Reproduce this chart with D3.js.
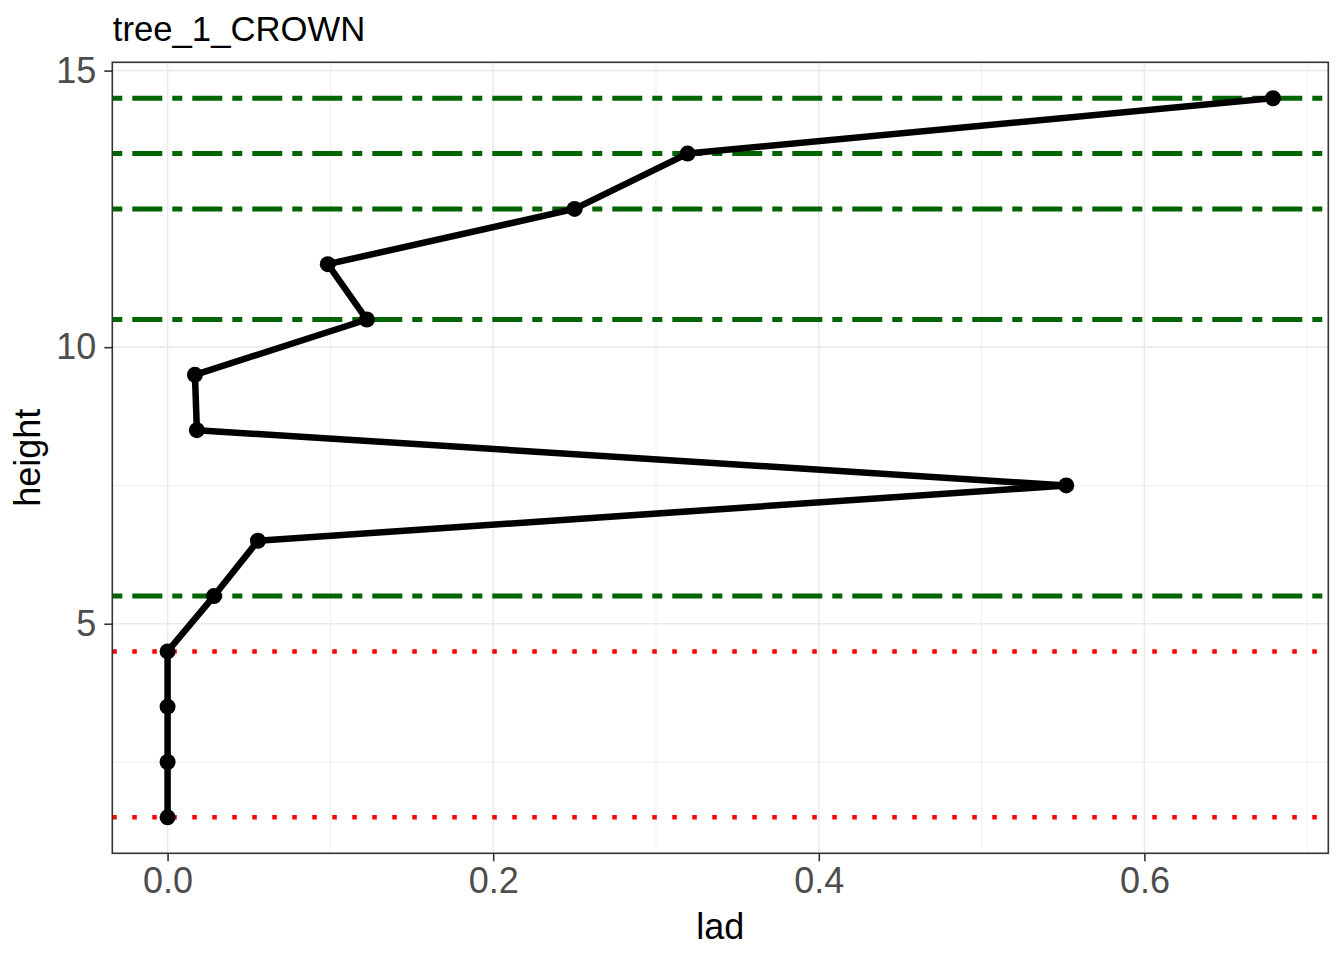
<!DOCTYPE html>
<html>
<head>
<meta charset="utf-8">
<script src="https://cdn.jsdelivr.net/npm/d3@7"></script>
<style>
  body { margin: 0; background: #fff; }
  text { font-family: "Liberation Sans", Arial, sans-serif; }
</style>
</head>
<body>
<script>
var svgWidth = 1344;
var svgHeight = 960;
var margin = { top: 62.3, right: 15.7, bottom: 106.7, left: 112.3 },
        width = svgWidth - margin.left - margin.right,
        height = svgHeight - margin.top - margin.bottom;

// profile data
var heights = [1.5, 2.5, 3.5, 4.5, 5.5, 6.5, 7.5, 8.5, 9.5, 10.5, 11.5, 12.5, 13.5, 14.5];
var lad = [0, 0, 0, 0, 0.0285, 0.0555, 0.552, 0.018, 0.0168, 0.1224, 0.0984, 0.250, 0.3194, 0.679];
var crownLines = [5.5, 10.5, 12.5, 13.5, 14.5];   // green dot-dash
var baseLines = [1.5, 4.5];                       // red dotted
var xTicks = [0, 0.2, 0.4, 0.6];
var xMinor = [0.1, 0.3, 0.5, 0.7];
var yTicks = [5, 10, 15];
var yMinor = [2.5, 7.5, 12.5];
var title = "tree_1_CROWN";

var data = heights.map((h, i) => ({ height: h, lad: lad[i] }));

// ggplot-style 5% expansion
function expand(ext) { var d = (ext[1] - ext[0]) * 0.05; return [ext[0] - d, ext[1] + d]; }

var svg = d3.select("body").append("svg").attr("width", svgWidth).attr("height", svgHeight);
var x = d3.scaleLinear().domain(expand(d3.extent(lad))).range([0, width]);
var y = d3.scaleLinear().domain(expand(d3.extent(heights))).range([height, 0]);
var g = svg.append("g").attr("transform", `translate(${margin.left},${margin.top})`);

// grid
g.selectAll(".xminor").data(xMinor).enter().append("line")
    .attr("x1", d => x(d)).attr("x2", d => x(d)).attr("y1", 0).attr("y2", height)
    .attr("stroke", "#ebebeb").attr("stroke-width", 0.8);
g.selectAll(".yminor").data(yMinor).enter().append("line")
    .attr("y1", d => y(d)).attr("y2", d => y(d)).attr("x1", 0).attr("x2", width)
    .attr("stroke", "#ebebeb").attr("stroke-width", 0.8);
g.selectAll(".xmajor").data(xTicks).enter().append("line")
    .attr("x1", d => x(d)).attr("x2", d => x(d)).attr("y1", 0).attr("y2", height)
    .attr("stroke", "#ebebeb").attr("stroke-width", 1.6);
g.selectAll(".ymajor").data(yTicks).enter().append("line")
    .attr("y1", d => y(d)).attr("y2", d => y(d)).attr("x1", 0).attr("x2", width)
    .attr("stroke", "#ebebeb").attr("stroke-width", 1.6);

// reference lines
g.selectAll(".crown").data(crownLines).enter().append("line")
    .attr("x1", 0).attr("x2", width).attr("y1", d => y(d)).attr("y2", d => y(d))
    .attr("stroke", "#006400").attr("stroke-width", 5)
    .attr("stroke-dasharray", "10,10,30,10");
g.selectAll(".base").data(baseLines).enter().append("line")
    .attr("x1", 0).attr("x2", width).attr("y1", d => y(d)).attr("y2", d => y(d))
    .attr("stroke", "#ff0000").attr("stroke-width", 4.5)
    .attr("stroke-dasharray", "4.5,15.5");

// profile line + points
g.append("path").datum(data)
    .attr("fill", "none").attr("stroke", "#000").attr("stroke-width", 6.5)
    .attr("stroke-linejoin", "round")
    .attr("d", d3.line().x(d => x(d.lad)).y(d => y(d.height)));
g.selectAll(".pt").data(data).enter().append("circle")
    .attr("cx", d => x(d.lad)).attr("cy", d => y(d.height)).attr("r", 8)
    .attr("fill", "#000");

// panel border
g.append("rect").attr("width", width).attr("height", height)
    .attr("fill", "none").attr("stroke", "#333333").attr("stroke-width", 1.6);

// axes
var xAxis = g.append("g").attr("transform", `translate(0,${height})`)
    .call(d3.axisBottom(x).tickValues(xTicks).tickFormat(d3.format(".1f")).tickSizeInner(8).tickSizeOuter(0).tickPadding(6));
var yAxis = g.append("g")
    .call(d3.axisLeft(y).tickValues(yTicks).tickSizeInner(8).tickSizeOuter(0).tickPadding(8));
[xAxis, yAxis].forEach(a => {
  a.select(".domain").remove();
  a.selectAll(".tick line").attr("stroke", "#333333").attr("stroke-width", 1.6);
  a.selectAll(".tick text").attr("fill", "#4d4d4d").style("font-size", "36px")
      .style("font-family", "'Liberation Sans', Arial, sans-serif");
});

// titles
svg.append("text").attr("x", margin.left + 0.5).attr("y", 41)
    .style("font-size", "34.7px").attr("fill", "#000").text(title);
svg.append("text").attr("x", margin.left + width / 2).attr("y", 939)
    .attr("text-anchor", "middle").style("font-size", "36px").attr("fill", "#000").text("lad");
svg.append("text").attr("transform", `translate(40,${margin.top + height / 2}) rotate(-90)`)
    .attr("text-anchor", "middle").style("font-size", "36px").attr("fill", "#000").text("height");
</script>
</body>
</html>
